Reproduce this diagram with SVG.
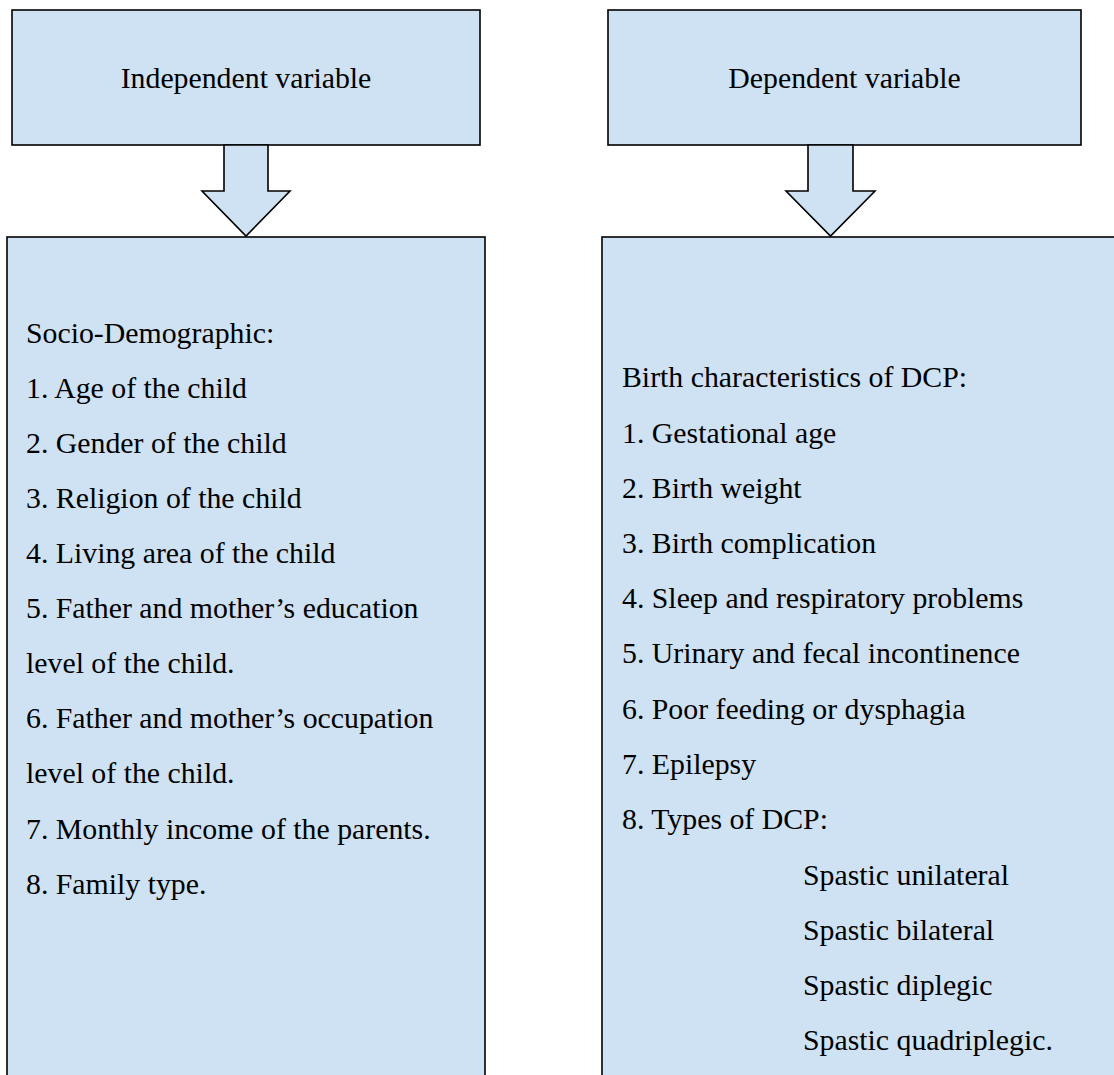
<svg xmlns="http://www.w3.org/2000/svg" width="1114" height="1075" viewBox="0 0 1114 1075">
<style>
.box{fill:#cfe2f3;stroke:#000;stroke-width:1.6}
text{font-family:'Liberation Serif','Times New Roman',Times,serif;font-size:29.8px;fill:#000}
.c{text-anchor:middle}
</style>
<rect width="1114" height="1075" fill="#fff"/>
<g id="independent-header">
<rect class="box" x="12" y="10" width="468" height="135"/>
<text class="c" x="246" y="88">Independent variable</text>
</g>
<g id="dependent-header">
<rect class="box" x="608" y="10" width="473" height="135"/>
<text class="c" x="844.5" y="88">Dependent variable</text>
</g>
<g id="connectors">
<path class="box" d="M224,145 L268,145 L268,191 L290,191 L246,236 L202,191 L224,191 Z"/>
<path class="box" d="M808,145 L853,145 L853,191 L875,191 L830.5,236 L786,191 L808,191 Z"/>
</g>
<g id="independent-list">
<rect class="box" x="7" y="237" width="478" height="850"/>
<text x="26" y="342.7">Socio-Demographic:</text>
<text x="26" y="397.5">1. Age of the child</text>
<text x="26" y="452.5">2. Gender of the child</text>
<text x="26" y="507.5">3. Religion of the child</text>
<text x="26" y="562.7">4. Living area of the child</text>
<text x="26" y="617.7">5. Father and mother’s education</text>
<text x="26" y="672.7">level of the child.</text>
<text x="26" y="728.3">6. Father and mother’s occupation</text>
<text x="26" y="783.3">level of the child.</text>
<text x="26" y="839">7. Monthly income of the parents.</text>
<text x="26" y="894">8. Family type.</text>
</g>
<g id="dependent-list">
<rect class="box" x="602" y="237" width="530" height="850"/>
<text x="622" y="386.7">Birth characteristics of DCP:</text>
<text x="622" y="443.3">1. Gestational age</text>
<text x="622" y="498.3">2. Birth weight</text>
<text x="622" y="553.3">3. Birth complication</text>
<text x="622" y="608.3">4. Sleep and respiratory problems</text>
<text x="622" y="663.3">5. Urinary and fecal incontinence</text>
<text x="622" y="718.7">6. Poor feeding or dysphagia</text>
<text x="622" y="774">7. Epilepsy</text>
<text x="622" y="829">8. Types of DCP:</text>
<text x="803" y="885">Spastic unilateral</text>
<text x="803" y="940">Spastic bilateral</text>
<text x="803" y="995">Spastic diplegic</text>
<text x="803" y="1050">Spastic quadriplegic.</text>
</g>
</svg>
